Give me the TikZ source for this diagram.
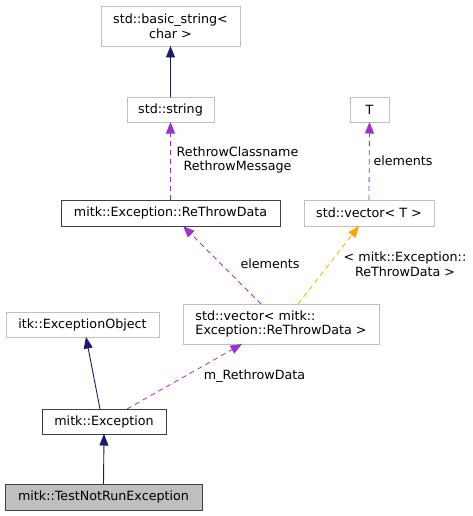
\documentclass[tikz,border=0pt]{standalone}
\usepackage{fontspec}
\setmainfont{DejaVu Sans}
\usetikzlibrary{arrows.meta,calc}
\definecolor{navy}{HTML}{191970}
\definecolor{orch}{HTML}{9A32CD}
\definecolor{orng}{HTML}{FFA500}
\definecolor{lgray}{HTML}{BFBFBF}
\definecolor{dgray}{HTML}{404040}
\begin{document}
\begin{tikzpicture}[x=1pt,y=1pt,
  every node/.style={font=\fontsize{12.7}{14.8}\selectfont, inner sep=0pt, outer sep=0pt},
  cls/.style={draw=lgray, line width=0.8pt, fill=white, align=center},
  doc/.style={draw=dgray, line width=1pt, fill=white, align=center},
  cur/.style={draw=dgray, line width=1pt, fill=lgray, align=center},
  tip/.style={-{Triangle[length=11.5pt,width=9pt]}},
  inh/.style={draw=navy, line width=0.9pt, tip},
  use/.style={draw=orch, line width=0.8pt, dash pattern=on 5pt off 4pt, tip},
  tpl/.style={draw=orng, line width=0.8pt, dash pattern=on 5pt off 4pt, tip},
  lbl/.style={align=center}
]
\useasboundingbox (0,0) rectangle (473,-516);
\node[cls, minimum width=139pt, minimum height=40pt] (bs) at (170.5,-26) {std::basic\_string<\\char >};
\node[cls, minimum width=87pt, minimum height=25pt] (str) at (170.5,-109.5) {std::string};
\node[cls, minimum width=39pt, minimum height=25pt] (T) at (369.5,-109.5) {T};
\node[doc, minimum width=219pt, minimum height=26pt] (rtd) at (170.5,-213) {mitk::Exception::ReThrowData};
\node[cls, minimum width=130pt, minimum height=26pt] (vecT) at (369,-213) {std::vector< T >};
\node[cls, minimum width=196pt, minimum height=40pt, align=left] (vecR) at (281,-324) {std::vector< mitk::\\Exception::ReThrowData >};
\node[cls, minimum width=153pt, minimum height=25pt] (itk) at (82.5,-324.5) {itk::ExceptionObject};
\node[doc, minimum width=124pt, minimum height=25pt] (exc) at (104,-421.5) {mitk::Exception};
\node[cur, minimum width=197pt, minimum height=26pt] (test) at (103.5,-497) {mitk::TestNotRunException};

\draw[inh] (str.north) -- (bs.south);
\draw[use] (rtd.north) -- (str.south);
\draw[use] (vecT.north) -- (T.south);
\draw[use] ($(vecR.north west)+(78,0)$) -- ($(rtd.south west)+(122,0)$);
\draw[tpl] ($(vecR.north west)+(115,0)$) -- ($(vecT.south west)+(55,0)$);
\draw[inh] ($(exc.north)+(-4,0)$) -- ($(itk.south)+(3.5,0)$);
\draw[use] ($(exc.north west)+(85,0)$) -- ($(vecR.south west)+(59,0)$);
\draw[inh] (test.north) -- (exc.south);

\node[lbl] (l1) at (237.5,-160) {RethrowClassname\\RethrowMessage};
\node[lbl] (l2) at (403,-160.5) {elements};
\node[lbl] (l3) at (270,-264) {elements};
\node[lbl] (l4) at (405,-264.5) {< mitk::Exception::\\ReThrowData >};
\node[lbl] (l5) at (254.5,-376) {m\_RethrowData};
\end{tikzpicture}
\end{document}
